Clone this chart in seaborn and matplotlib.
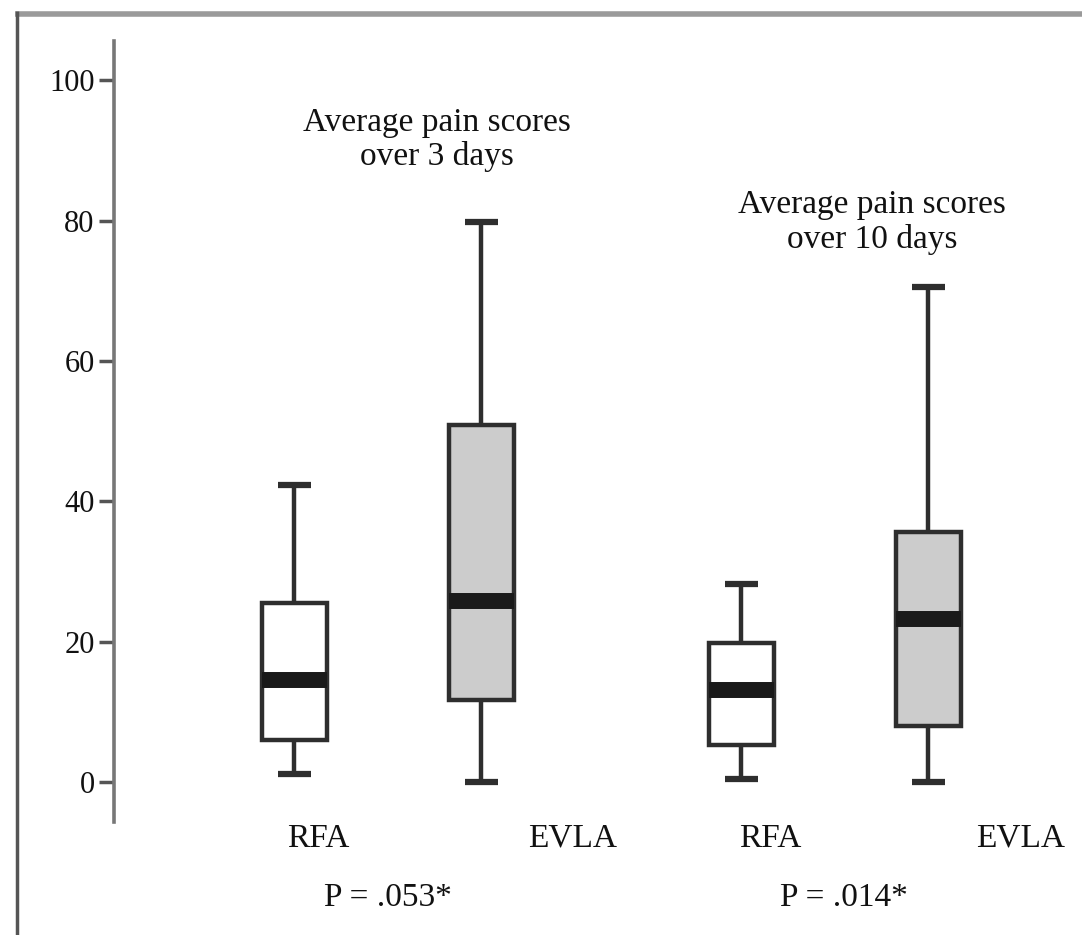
import matplotlib
matplotlib.use("Agg")
import matplotlib.pyplot as plt
import matplotlib.transforms as mtransforms
from matplotlib.lines import Line2D
import seaborn as sns
import pandas as pd

# Five-number summaries: min, Q1, median, Q3, max
periods = ["3 days", "10 days"]
treatments = ["RFA", "EVLA"]
rfa_3d = [1.1, 6.0, 14.5, 25.5, 42.3]
evla_3d = [0.0, 11.7, 25.8, 50.9, 79.8]
rfa_10d = [0.4, 5.3, 13.1, 19.8, 28.2]
evla_10d = [0.0, 8.0, 23.2, 35.6, 70.5]
p_values = ["P = .053*", "P = .014*"]
y_ticks = [0, 20, 40, 60, 80, 100]

rows = []
for period, series in zip(periods, [(rfa_3d, evla_3d), (rfa_10d, evla_10d)]):
    for trt, vals in zip(treatments, series):
        for v in vals:
            rows.append({"period": period, "treatment": trt, "score": v})
df = pd.DataFrame(rows)

sns.set_theme(style="white")
plt.rcParams["font.family"] = ["Liberation Serif", "DejaVu Serif"]

fig = plt.figure(figsize=(10.82, 9.35), dpi=100)
ax = fig.add_axes([114 / 1082, 1 - 822 / 935, 1 - 114 / 1082, (822 - 41) / 935])

edge = "#2e2e2e"
sns.boxplot(
    data=df, x="period", y="score", hue="treatment",
    order=periods, hue_order=treatments,
    palette={"RFA": "#ffffff", "EVLA": "#cccccc"},
    width=0.837, gap=0.652, whis=(0, 100),
    linecolor=edge, linewidth=3.2,
    medianprops=dict(color="#1a1a1a", linewidth=11.5, solid_capstyle="butt"),
    capprops=dict(linewidth=4.5, solid_capstyle="butt"),
    whiskerprops=dict(solid_capstyle="butt"),
    showfliers=False, legend=False, ax=ax,
)

ax.set_xlim(-0.613, 1.553)
ax.set_ylim(-5.7, 105.6)
ax.set_yticks(y_ticks)
ax.set_yticklabels([str(t) for t in y_ticks], fontsize=22, color="#111111")
ax.tick_params(axis="y", direction="out", length=11, width=2.5, color="#555555", pad=3, left=True)
ax.set_xticks([])
ax.set_xlabel("")
ax.set_ylabel("")
for s in ["top", "right", "bottom"]:
    ax.spines[s].set_visible(False)
ax.spines["left"].set_color("#777777")
ax.spines["left"].set_linewidth(2.6)

trans = mtransforms.blended_transform_factory(ax.transData, ax.transAxes)
label_x = [-0.157, 0.412, 0.855, 1.416]
label_txt = treatments + treatments
for x, t in zip(label_x, label_txt):
    ax.text(x, -0.0166, t, transform=trans, ha="center", va="center_baseline",
            fontsize=24, color="#111111")
for x, t in zip([0.0, 1.02], p_values):
    ax.text(x, -0.092, t, transform=trans, ha="center", va="center_baseline",
            fontsize=24, color="#111111")

ax.text(0.11, 91.5, "Average pain scores\nover 3 days", ha="center", va="center",
        fontsize=24, color="#111111", linespacing=1.15)
ax.text(1.083, 79.8, "Average pain scores\nover 10 days", ha="center", va="center",
        fontsize=24, color="#111111", linespacing=1.15)

# outer frame lines
fig.add_artist(Line2D([15 / 1082, 1.0], [1 - 13.5 / 935] * 2, transform=fig.transFigure,
                      color="#9a9a9a", linewidth=4, solid_capstyle="butt"))
fig.add_artist(Line2D([16.5 / 1082] * 2, [0, 1 - 11 / 935], transform=fig.transFigure,
                      color="#555555", linewidth=2.5, solid_capstyle="butt"))

fig.savefig("out.png", dpi=100, facecolor="white")
